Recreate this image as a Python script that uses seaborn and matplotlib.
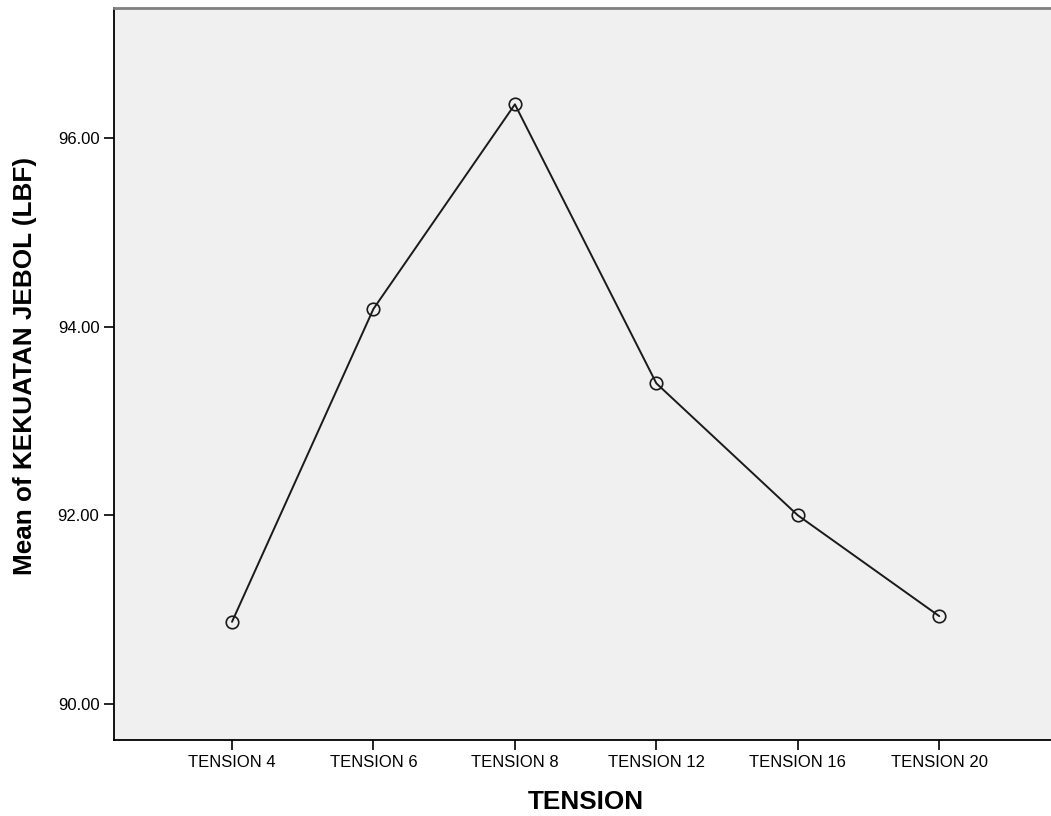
import numpy as np
import pandas as pd
import seaborn as sns
import matplotlib.pyplot as plt

tension = ["TENSION 4", "TENSION 6", "TENSION 8", "TENSION 12", "TENSION 16", "TENSION 20"]
mean_lbf = [90.87, 94.19, 96.36, 93.40, 92.00, 90.93]
yticks = [90.0, 92.0, 94.0, 96.0]

df = pd.DataFrame({"TENSION": tension, "mean": mean_lbf})

sns.set_style("white")
plt.rcParams['font.family'] = ['Liberation Sans', 'DejaVu Sans']
plt.rcParams['text.color'] = 'black'
plt.rcParams['axes.labelcolor'] = 'black'

fig = plt.figure(figsize=(10.51, 8.16), dpi=100)
ax = fig.add_axes([0.1085, 0.093, 0.8915, 0.897])
ax.set_facecolor("#f0f0f0")

sns.lineplot(data=df, x="TENSION", y="mean", sort=False, color="#1a1a1a", linewidth=1.4,
             marker="o", markersize=9, markerfacecolor="none", markeredgecolor="#1a1a1a",
             markeredgewidth=1.2, ax=ax)

ax.set_xlim(-0.834, 5.79)
ax.set_ylim(89.615, 97.38)
ax.set_yticks(yticks)
ax.set_yticklabels([f"{v:.2f}" for v in yticks])
ax.tick_params(axis="both", direction="out", length=7.5, width=1.2, colors="black",
               labelsize=12, left=True, bottom=True, pad=3)

for s in ["left", "bottom"]:
    ax.spines[s].set_color("black")
    ax.spines[s].set_linewidth(1.3)
ax.spines["top"].set_color("#808080")
ax.spines["top"].set_linewidth(2)
ax.spines["right"].set_visible(False)

ax.set_xlabel("TENSION", fontsize=18.8, fontweight="bold", va="center", color="black")
ax.set_ylabel("Mean of KEKUATAN JEBOL (LBF)", fontsize=18.8, fontweight="bold", va="center", color="black")
ax.xaxis.set_label_coords(0.504, -0.085)
ax.yaxis.set_label_coords(-0.0955, 0.511)

fig.savefig("out.png", dpi=100)
